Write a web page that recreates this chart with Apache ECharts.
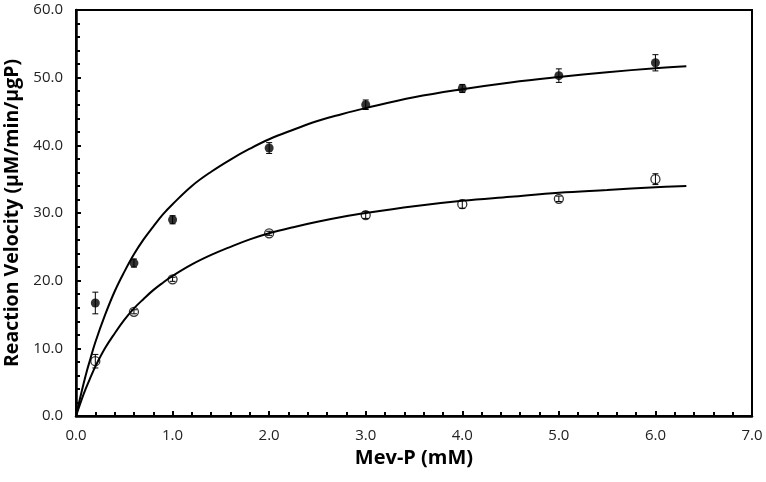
<!DOCTYPE html>
<html><head><meta charset="utf-8">
<script src="https://cdn.jsdelivr.net/npm/echarts@6/dist/echarts.min.js"></script>
<style>html,body{margin:0;padding:0;background:#fff}#c{width:766px;height:482px}</style>
</head><body><div id="c"></div>
<script>
// Measured data
var xPoints = [0.2, 0.6, 1.0, 2.0, 3.0, 4.0, 5.0, 6.0];
var filledY = [16.7, 22.6, 29.0, 39.6, 46.0, 48.4, 50.3, 52.2];
var filledErr = [1.6, 0.6, 0.6, 0.8, 0.7, 0.6, 1.0, 1.2];
var openY = [8.1, 15.4, 20.2, 27.0, 29.7, 31.3, 32.1, 35.0];
var openErr = [1.0, 0.3, 0.3, 0.3, 0.5, 0.6, 0.4, 0.8];
// Fitted curves
var curveX = [0, 0.05, 0.1, 0.15, 0.2, 0.3, 0.4, 0.5, 0.6, 0.7, 0.8, 0.9, 1.0, 1.2, 1.4, 1.6, 1.8, 2.0, 2.25, 2.5, 2.75, 3.0, 3.5, 4.0, 4.5, 5.0, 5.5, 6.0, 6.32];
var filledCurve = [0, 3.1, 6.0, 8.5, 10.9, 14.9, 18.4, 21.3, 23.9, 26.1, 28.0, 29.8, 31.3, 34.0, 36.1, 37.9, 39.5, 40.9, 42.3, 43.6, 44.6, 45.5, 47.1, 48.3, 49.3, 50.1, 50.8, 51.4, 51.7];
var openCurve = [0, 2.1, 4.0, 5.7, 7.3, 10.0, 12.2, 14.2, 15.9, 17.3, 18.6, 19.7, 20.7, 22.4, 23.8, 25.0, 26.1, 27.0, 27.9, 28.7, 29.4, 30.0, 31.0, 31.8, 32.4, 33.0, 33.4, 33.8, 34.0];
var xTicks = [0, 1, 2, 3, 4, 5, 6, 7];
var yTicks = [0, 10, 20, 30, 40, 50, 60];

var FONT = 'Open Sans';
function zip(a, b) { return a.map(function (v, i) { return [v, b[i]]; }); }
function errData(ys, es) { return xPoints.map(function (x, i) { return [x, ys[i] - es[i], ys[i] + es[i]]; }); }
function errRender(params, api) {
  var x = api.value(0);
  var lo = api.coord([x, api.value(1)]);
  var hi = api.coord([x, api.value(2)]);
  var w = 3;
  var st = { stroke: '#000', lineWidth: 1 };
  return { type: 'group', children: [
    { type: 'line', shape: { x1: lo[0], y1: lo[1], x2: hi[0], y2: hi[1] }, style: st },
    { type: 'line', shape: { x1: lo[0] - w, y1: lo[1], x2: lo[0] + w, y2: lo[1] }, style: st },
    { type: 'line', shape: { x1: hi[0] - w, y1: hi[1], x2: hi[0] + w, y2: hi[1] }, style: st }
  ]};
}

var chart = echarts.init(document.getElementById('c'), null, { renderer: 'canvas' });
chart.setOption({
  animation: false,
  grid: { left: 76, right: 14, top: 10, bottom: 66, outerBoundsMode: 'none', containLabel: false, show: true, borderColor: '#000', borderWidth: 2, backgroundColor: 'transparent' },
  xAxis: {
    type: 'value', min: xTicks[0], max: xTicks[xTicks.length - 1], interval: 1,
    name: 'Mev-P (mM)', nameLocation: 'middle', nameGap: 31,
    nameTextStyle: { fontFamily: FONT, fontWeight: 'bold', fontSize: 20, color: '#000' },
    axisLine: { lineStyle: { color: '#000', width: 2.5 } },
    axisTick: { inside: true, length: 5, lineStyle: { color: '#000', width: 2 } },
    minorTick: { show: true, splitNumber: 5, length: 4, lineStyle: { color: '#000', width: 2 } },
    axisLabel: { fontFamily: FONT, fontSize: 15, color: '#222', margin: 12, formatter: function (v) { return v.toFixed(1); } },
    splitLine: { show: false }
  },
  yAxis: {
    type: 'value', min: yTicks[0], max: yTicks[yTicks.length - 1], interval: 10,
    name: 'Reaction Velocity (μM/min/μgP)', nameLocation: 'middle', nameGap: 45,
    nameTextStyle: { fontFamily: FONT, fontWeight: 'bold', fontSize: 19.5, color: '#000' },
    axisLine: { lineStyle: { color: '#000', width: 2.5 } },
    axisTick: { inside: true, length: 5, lineStyle: { color: '#000', width: 2 } },
    minorTick: { show: true, splitNumber: 5, length: 4, lineStyle: { color: '#000', width: 2 } },
    axisLabel: { fontFamily: FONT, fontSize: 15, color: '#222', margin: 13, formatter: function (v) { return v.toFixed(1); } },
    splitLine: { show: false }
  },
  series: [
    { type: 'line', data: zip(curveX, filledCurve), smooth: 0.4, showSymbol: false, lineStyle: { color: '#000', width: 2 }, z: 2 },
    { type: 'line', data: zip(curveX, openCurve), smooth: 0.4, showSymbol: false, lineStyle: { color: '#000', width: 2 }, z: 2 },
    { type: 'custom', renderItem: errRender, data: errData(filledY, filledErr), encode: { x: 0, y: [1, 2] }, z: 3 },
    { type: 'custom', renderItem: errRender, data: errData(openY, openErr), encode: { x: 0, y: [1, 2] }, z: 3 },
    { type: 'scatter', data: zip(xPoints, filledY), symbol: 'circle', symbolSize: 9, itemStyle: { color: '#000' }, z: 4 },
    { type: 'scatter', data: zip(xPoints, openY), symbol: 'circle', symbolSize: 9, itemStyle: { color: 'rgba(255,255,255,0)', borderColor: '#000', borderWidth: 1.3 }, z: 4 }
  ]
});
</script></body></html>
